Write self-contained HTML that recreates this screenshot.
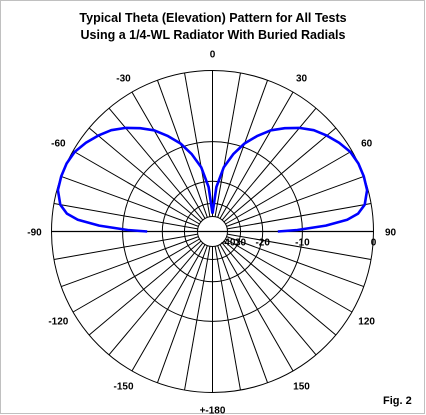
<!DOCTYPE html>
<html><head><meta charset="utf-8"><style>
html,body{margin:0;padding:0;background:#fff}
svg{display:block;font-family:"Liberation Sans",Arial,sans-serif;font-weight:bold}
</style></head><body>
<svg width="426" height="415" viewBox="0 0 426 415" xmlns="http://www.w3.org/2000/svg">
<rect x="0.5" y="0.5" width="424" height="413" fill="#fff" stroke="#c0c0c0"/>
<text x="213" y="22" text-anchor="middle" font-size="12.5">Typical Theta (Elevation) Pattern for All Tests</text>
<text x="213" y="39" text-anchor="middle" font-size="12.5">Using a 1/4-WL Radiator With Buried Radials</text>
<g id="grid"></g>
<g id="series"></g>
<g id="labels"></g>
<text x="383" y="404" font-size="11">Fig. 2</text>
</svg>
<script>
const thetaDeg=[0,5,10,15,20,25,30,35,40,45,50,55,60,65,70,75,80,83,85,87,89,90];
const gainDb=[-40,-22,-15.5,-12,-9.3,-7.3,-5.5,-4.2,-3.0,-2.0,-1.3,-0.7,-0.2,0,0,-0.1,-0.7,-1.6,-3,-6,-11,-15.5];
const ringDb=[0,-10,-20,-30];
const ringLabels=["0","-10","-20","-30","-40"];
const ringLabelDb=[0,-10,-20,-30,-40];
const angleLabels=[0,30,60,90,120,150,180,-150,-120,-90,-60,-30];

const NS="http://www.w3.org/2000/svg";
const cx=212.5,cy=231.5,R=161,hole=15;
function rOf(db){return R*Math.pow(0.89,-db/2);}
function pt(th,r){const a=th*Math.PI/180;return [cx+r*Math.sin(a),cy-r*Math.cos(a)];}
function mk(tag,attrs,parent){const e=document.createElementNS(NS,tag);for(const k in attrs)e.setAttribute(k,attrs[k]);parent.appendChild(e);return e;}
const grid=document.getElementById('grid');
for(let a=0;a<360;a+=10){
  const p1=pt(a,hole),p2=pt(a,R);
  const l=mk('line',{x1:p1[0],y1:p1[1],x2:p2[0],y2:p2[1],stroke:'#000','stroke-width':1},grid);
  
  
}
ringDb.forEach(d=>{
  const c=mk('circle',{cx:cx,cy:cy,r:rOf(d),fill:'none',stroke:'#000','stroke-width':1},grid);
  
  
});
const hc=mk('circle',{cx:cx,cy:cy,r:hole,fill:'#fff',stroke:'#000','stroke-width':1},grid);


const hl=mk('line',{x1:cx-R,y1:cy,x2:cx+R,y2:cy,stroke:'#000','stroke-width':1.2},grid);


const vl=mk('line',{x1:cx,y1:cy-R,x2:cx,y2:cy-hole,stroke:'#000','stroke-width':1},grid);



const series=document.getElementById('series');
function lobe(sign){
  let d='';
  thetaDeg.forEach((t,i)=>{const r=Math.max(rOf(gainDb[i]),hole+3);const p=pt(sign*t,r);d+=(i?'L':'M')+p[0].toFixed(1)+' '+p[1].toFixed(1);});
  return d;
}
const lr=mk('path',{d:lobe(1),fill:'none',stroke:'#0000ff','stroke-width':2.6,'stroke-linejoin':'round'},series);


const ll=mk('path',{d:lobe(-1),fill:'none',stroke:'#0000ff','stroke-width':2.6,'stroke-linejoin':'round'},series);



const labels=document.getElementById('labels');
angleLabels.forEach(a=>{
  const p=pt(a,R+17);
  const t=mk('text',{x:p[0],y:p[1]+4,'text-anchor':'middle','font-size':10},labels);
  t.textContent=(a===180)?'+-180':String(a);
  
  
});
ringLabelDb.forEach((d,i)=>{
  const x=cx+rOf(d);
  const t=mk('text',{x:x,y:cy+14,'text-anchor':i===0?'middle':'middle','font-size':10},labels);
  t.textContent=(d===-30)?'30':ringLabels[i];
  
  
});
</script>
</body></html>
